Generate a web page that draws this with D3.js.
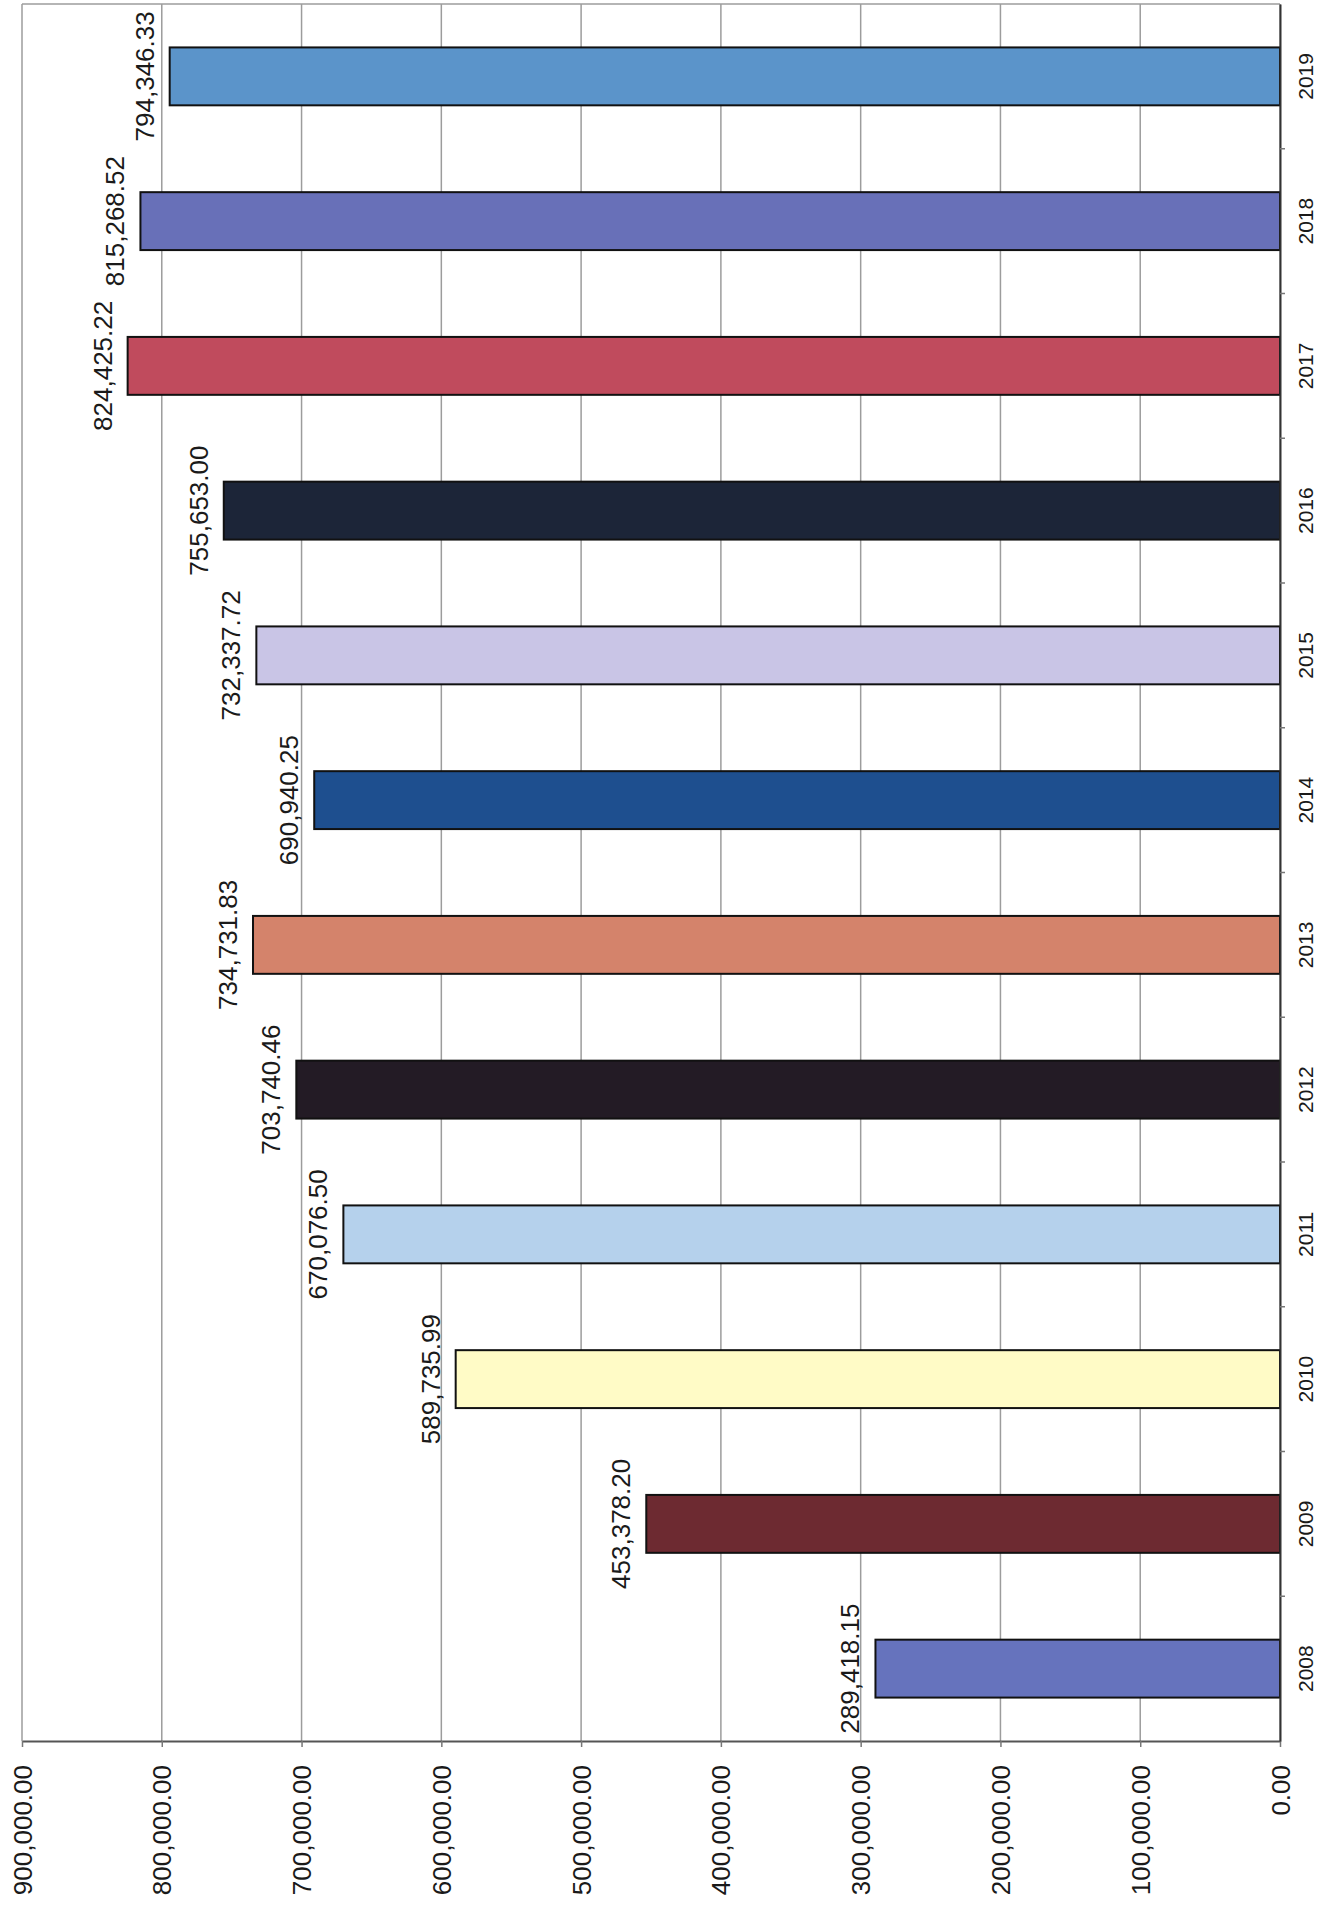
<!DOCTYPE html>
<html>
<head>
<meta charset="utf-8">
<script src="https://cdn.jsdelivr.net/npm/d3@7"></script>
<style>
  body { margin: 0; background: #fff; }
  svg { display: block; font-family: "Liberation Sans", Arial, sans-serif; }
</style>
</head>
<body>
<div id="chart"></div>
<script>
/* Yearly totals, scanned page turned on its side */

const years = ["2008", "2009", "2010", "2011", "2012", "2013", "2014", "2015", "2016", "2017", "2018", "2019"];
const totals = [289418.15, 453378.20, 589735.99, 670076.50, 703740.46, 734731.83, 690940.25, 732337.72, 755653.00, 824425.22, 815268.52, 794346.33];
const barColors = ["#6673bd", "#6d2a31", "#fffbc6", "#b5d1ec", "#231b25", "#d4836b", "#1e4f8f", "#c9c5e6", "#1c2538", "#c04b5d", "#6870b8", "#5b94ca"];
const valueTicks = [0, 100000, 200000, 300000, 400000, 500000, 600000, 700000, 800000, 900000];

const data = years.map((y, i) => ({ year: y, value: totals[i], color: barColors[i] }));

const width = 1335,
      height = 1909,
      plot = ({ left: 22, right: 1280, top: 4, bottom: 1741 });

const fmt = d3.format(",.2f");

let svg = d3.select("#chart")
    .append("svg")
    .attr("width", width)
    .attr("height", height);

svg.append("rect")
    .attr("width", width)
    .attr("height", height)
    .attr("fill", "#fff");

// value runs right to left (0 on the right)
let x = d3.scaleLinear()
    .domain([0, 900000])
    .range([plot.right, plot.left]);

// 2019 on top, 2008 at the bottom
let y = d3.scaleBand()
    .domain(years.slice().reverse())
    .range([plot.top, plot.bottom])
    .paddingInner(0.6)
    .paddingOuter(0.3);

// gridlines
svg.append("g")
    .selectAll("line")
    .data(valueTicks)
    .join("line")
    .attr("x1", d => x(d))
    .attr("x2", d => x(d))
    .attr("y1", plot.top)
    .attr("y2", plot.bottom)
    .attr("stroke", "#9c9c9c")
    .attr("stroke-width", 1.5);

// top border
svg.append("line")
    .attr("x1", plot.left)
    .attr("x2", plot.right)
    .attr("y1", plot.top)
    .attr("y2", plot.top)
    .attr("stroke", "#9c9c9c")
    .attr("stroke-width", 1.5);

// bars
svg.append("g")
    .selectAll("rect")
    .data(data)
    .join("rect")
    .attr("x", d => x(d.value))
    .attr("y", d => y(d.year))
    .attr("width", d => x(0) - x(d.value))
    .attr("height", y.bandwidth())
    .attr("fill", d => d.color)
    .attr("stroke", "#111")
    .attr("stroke-width", 2);

// value labels, left of the bar end, reading upwards
svg.append("g")
    .selectAll("text")
    .data(data)
    .join("text")
    .attr("transform", d => `translate(${x(d.value) - 16},${y(d.year) + y.bandwidth() / 2}) rotate(-90)`)
    .attr("text-anchor", "middle")
    .style("font-size", "26px")
    .style("fill", "#1a1a1a")
    .text(d => fmt(d.value));

// value axis along the bottom
let xAxis = svg.append("g")
    .attr("transform", `translate(0,${plot.bottom})`)
    .call(d3.axisBottom(x).tickValues(valueTicks).tickFormat(fmt).tickSize(6).tickSizeOuter(0));

xAxis.select(".domain").attr("stroke", "#555").attr("stroke-width", 2);
xAxis.selectAll(".tick line").attr("stroke", "#777").attr("stroke-width", 1.5);
xAxis.selectAll(".tick text")
    .attr("transform", "rotate(-90)")
    .attr("x", -24)
    .attr("y", 0)
    .attr("dy", "0.35em")
    .attr("text-anchor", "end")
    .style("font-size", "26px")
    .style("font-family", "Liberation Sans, Arial, sans-serif")
    .style("fill", "#1a1a1a");

// year axis on the right (the zero line)
let yAxis = svg.append("g")
    .attr("transform", `translate(${plot.right},0)`)
    .call(d3.axisRight(y).tickSize(0).tickSizeOuter(0));

yAxis.select(".domain").attr("stroke", "#333").attr("stroke-width", 2);
yAxis.selectAll(".tick text")
    .attr("transform", "rotate(-90)")
    .attr("x", 0)
    .attr("y", 26)
    .attr("dy", "0.35em")
    .attr("text-anchor", "middle")
    .style("font-size", "21px")
    .style("font-family", "Liberation Sans, Arial, sans-serif")
    .style("fill", "#1a1a1a");

// small ticks between the years
svg.append("g")
    .selectAll("line")
    .data(years.slice(0, -1))
    .join("line")
    .attr("x1", plot.right)
    .attr("x2", plot.right + 5)
    .attr("y1", d => y(d) - y.step() * y.paddingInner() / 2)
    .attr("y2", d => y(d) - y.step() * y.paddingInner() / 2)
    .attr("stroke", "#777")
    .attr("stroke-width", 1.5);
</script>
</body>
</html>
